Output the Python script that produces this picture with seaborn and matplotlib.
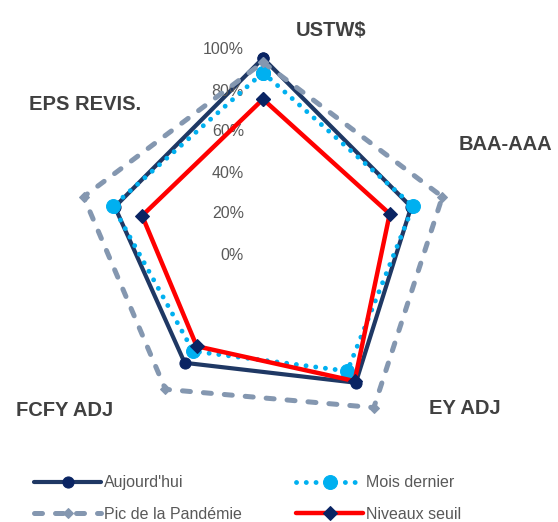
import numpy as np
import pandas as pd
import matplotlib
matplotlib.use("Agg")
import matplotlib.pyplot as plt
import matplotlib.transforms as mtransforms
import seaborn as sns

# data
categories = ["USTW$", "BAA-AAA", "EY ADJ", "FCFY ADJ", "EPS REVIS."]
aujourdhui = [0.96, 0.76, 0.77, 0.65, 0.76]
mois_dernier = [0.89, 0.77, 0.70, 0.58, 0.77]
pic_pandemie = [0.94, 0.92, 0.92, 0.81, 0.92]
niveaux_seuil = [0.76, 0.65, 0.76, 0.55, 0.62]
rticks = [0.0, 0.2, 0.4, 0.6, 0.8, 1.0]
rtick_labels = ["0%", "20%", "40%", "60%", "80%", "100%"]
series_names = ["Aujourd'hui", "Mois dernier", "Pic de la Pandémie", "Niveaux seuil"]

sns.set_style("white")
plt.rcParams["font.family"] = ["Liberation Sans", "DejaVu Sans"]

fig = plt.figure(figsize=(5.58, 5.22), dpi=100)
# polar axes centred on (263, 255) px, radius 205 px for 100%
W, H = 558, 522
cx, cy, R = 263, 255, 205
ax = fig.add_axes([(cx - R) / W, (H - cy - R) / H, 2 * R / W, 2 * R / H],
                  projection="polar")
ax.set_theta_zero_location("N")
ax.set_theta_direction(-1)

n = len(categories)
theta = np.linspace(0, 2 * np.pi, n, endpoint=False)
theta_closed = np.append(theta, 2 * np.pi)


def closed(vals):
    return np.append(vals, vals[0])


styles = {
    "Aujourd'hui": dict(color="#1F3864", lw=3.0, marker="o", ms=8,
                        mfc="#0A2463", mec="#0A2463", zorder=3),
    "Mois dernier": dict(color="#00B0F0", lw=3.5, linestyle=(0, (0.01, 2.0)),
                         dash_capstyle="round", marker="o", ms=10,
                         mfc="#00B0F0", mec="#00B0F0", zorder=4),
    "Pic de la Pandémie": dict(color="#8497B0", lw=3.6, linestyle=(0, (1.6, 2.6)),
                               dash_capstyle="round", marker="D", ms=5,
                               mfc="#8497B0", mec="#8497B0", zorder=4.5),
    "Niveaux seuil": dict(color="#FF0000", lw=3.2, marker="D", ms=7,
                          mfc="#0A2463", mec="#0A2463", zorder=5),
}

values = [aujourdhui, mois_dernier, pic_pandemie, niveaux_seuil]
handles = {}
for name, vals in zip(series_names, values):
    df = pd.DataFrame({"theta": theta_closed, "r": closed(vals)})
    before = len(ax.lines)
    sns.lineplot(data=df, x="theta", y="r", ax=ax, sort=False,
                 estimator=None, **styles[name])
    handles[name] = ax.lines[before]

ax.set_ylim(0, 1)
ax.set_xticks([])
ax.set_yticks([])
ax.grid(False)
ax.spines["polar"].set_visible(False)
ax.set_xlabel("")
ax.set_ylabel("")

# radial tick labels, right-aligned just left of the vertical axis
off = mtransforms.offset_copy(ax.transData, fig=fig, x=-19, y=0, units="dots")
for r, lab in zip(rticks, rtick_labels):
    ax.text(0, r, lab, transform=off, ha="right", va="center",
            fontsize=11.5, color="#595959")

# category labels
cat_pos = [(331, 30), (505, 145), (465, 408), (65, 410), (85, 105)]
for lab, (px, py) in zip(categories, cat_pos):
    fig.text(px / W, 1 - py / H, lab, ha="center", va="center",
             fontsize=14.5, fontweight="bold", color="#404040")

# legend filled row-wise like the original (matplotlib fills by column)
leg_order = ["Aujourd'hui", "Pic de la Pandémie", "Mois dernier", "Niveaux seuil"]
fig.legend(handles=[handles[k] for k in leg_order], labels=leg_order, ncol=2,
           loc="lower left", bbox_to_anchor=(28 / W, -0.012),
           frameon=False, fontsize=11.5, labelcolor="#595959",
           handlelength=4.2, handletextpad=0.15, columnspacing=3.4,
           numpoints=1, labelspacing=1.05, borderaxespad=0.0)

fig.savefig("out.png", dpi=100, facecolor="white")
